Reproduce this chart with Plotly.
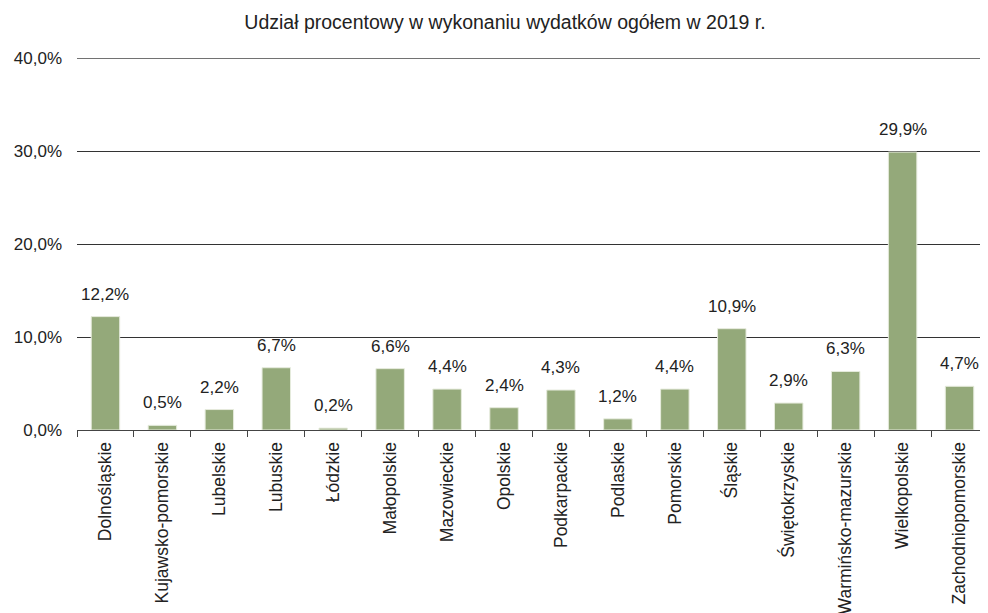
import plotly.graph_objects as go

categories = ["Dolnośląskie", "Kujawsko-pomorskie", "Lubelskie", "Lubuskie", "Łódzkie",
              "Małopolskie", "Mazowieckie", "Opolskie", "Podkarpackie", "Podlaskie",
              "Pomorskie", "Śląskie", "Świętokrzyskie", "Warmińsko-mazurskie",
              "Wielkopolskie", "Zachodniopomorskie"]
values = [12.2, 0.5, 2.2, 6.7, 0.2, 6.6, 4.4, 2.4, 4.3, 1.2, 4.4, 10.9, 2.9, 6.3, 29.9, 4.7]
y_ticks = [0, 10, 20, 30, 40]
y_tick_labels = ["0,0%", "10,0%", "20,0%", "30,0%", "40,0%"]
title = "Udział procentowy w wykonaniu wydatków ogółem w 2019 r."

FONT = "Liberation Sans, Arial, sans-serif"

W, H = 980, 605

fig = go.Figure()
fig.add_trace(go.Bar(
    x=categories, y=values,
    marker=dict(color="#94A97A", line=dict(color="#E6EBDD", width=1)),
    width=0.5,
))

for c, v in zip(categories, values):
    fig.add_annotation(x=c, y=v, text=f"{v:.1f}%".replace(".", ","),
                       showarrow=False, yanchor="bottom", yshift=11,
                       font=dict(family=FONT, size=17, color="#222"))

# top gridline (at the edge of the range, which plotly does not draw itself)
fig.add_shape(type="line", xref="paper", x0=0, x1=1, yref="y",
              y0=y_ticks[-1], y1=y_ticks[-1], line=dict(color="#333", width=1),
              layer="below")

fig.update_layout(
    width=W, height=H,
    margin=dict(l=69, r=0, t=50, b=183, autoexpand=False),
    paper_bgcolor="white", plot_bgcolor="white",
    showlegend=False,
    font=dict(family=FONT, size=17, color="#222"),
    title=dict(text=title, x=497/W, xanchor="center", y=1 - 14/H, yanchor="middle",
               font=dict(family=FONT, size=19.5, color="#222")),
    bargap=0.5,
)
fig.update_yaxes(range=[0, 40.02], tickvals=y_ticks, ticktext=y_tick_labels,
                 showgrid=True, gridcolor="#333", gridwidth=1,
                 zeroline=False, showline=False, ticks="", ticklabelstandoff=14)
fig.update_xaxes(showline=True, linecolor="#444", linewidth=1,
                 ticks="outside", tickson="boundaries", ticklen=6, tickcolor="#444",
                 tickangle=-90, showgrid=False, ticklabelstandoff=4,
                 tickfont=dict(family=FONT, size=17.5, color="#222"))

fig.write_html("out.html")
